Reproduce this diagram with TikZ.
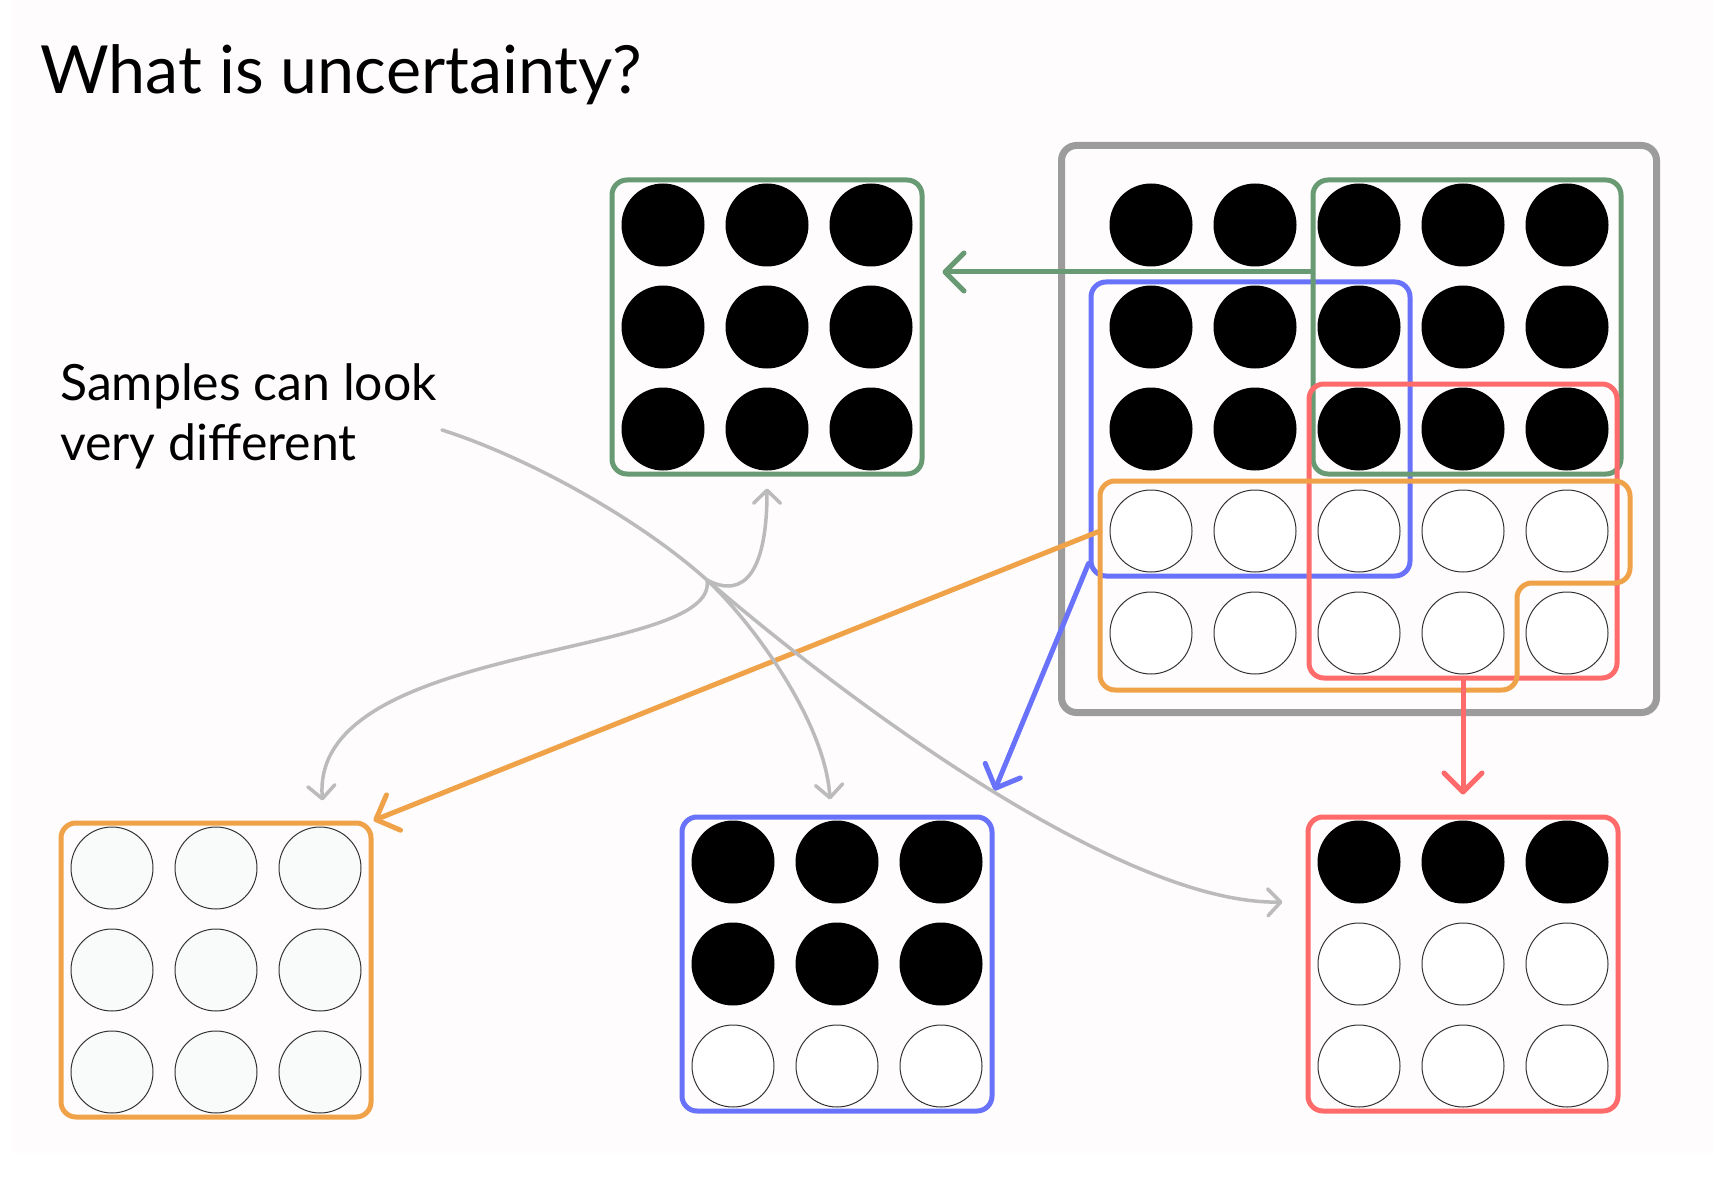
\documentclass[tikz,border=0pt]{standalone}
\usepackage{fontspec}
\setmainfont{Lato}
\usetikzlibrary{arrows.meta, positioning}

\definecolor{cgreen}{RGB}{104,155,116}
\definecolor{cblue}{RGB}{105,114,250}
\definecolor{cred}{RGB}{255,107,107}
\definecolor{corange}{RGB}{240,162,72}
\definecolor{cframe}{RGB}{156,156,156}
\definecolor{carrow}{RGB}{187,187,187}
\definecolor{cpaper}{RGB}{254,252,253}
\definecolor{cpale}{RGB}{249,250,250}

\begin{document}
\begin{tikzpicture}[x=1pt, y=-1pt,
  dot/.style={circle, fill=black, inner sep=0pt, minimum size=83pt},
  hole/.style={circle, draw=black!80, line width=1pt, fill=white, inner sep=0pt, minimum size=82pt},
  panel/.style={draw=#1, line width=5pt, rounded corners=15pt, inner sep=0pt,
    minimum width=310pt, minimum height=294pt},
  link/.style={draw=carrow, line width=3.5pt, line cap=round,
    -{Straight Barb[length=13pt, width=27pt, round]}},
  pick/.style={draw=#1, line width=5pt, line cap=round,
    -{Straight Barb[length=19pt, width=38pt, round]}}]

\useasboundingbox (0,0) rectangle (1726,1182);
\fill[white] (0,0) rectangle (1726,1182);
\fill[cpaper] (12,0) rectangle (1714,1153);

% titles
\node[anchor=base west, inner sep=0pt, font=\fontsize{66.4}{80}\selectfont] (title) at (40,94) {What is uncertainty?};
\node[anchor=base west, inner sep=0pt, align=left, font=\fontsize{50}{60}\selectfont] (note) at (60,460) {Samples can look\\very different};

% the whole population
\foreach \r in {1,2,3}
  \foreach \c in {1,...,5}
    \node[dot] (all-\r-\c) at ({1047+104*\c},{123+102*\r}) {};
\foreach \r in {4,5}
  \foreach \c in {1,...,5}
    \node[hole] (all-\r-\c) at ({1047+104*\c},{123+102*\r}) {};
\node[draw=cframe, line width=7pt, rounded corners=15pt, inner sep=0pt,
  minimum width=595pt, minimum height=567pt] (frame) at (all-3-3) {};

% samples drawn from it
\node[panel=cblue, minimum width=319pt, xshift=-4.5pt] (binner) at (all-3-2) {};
\node[panel=cgreen, minimum width=308pt, xshift=4pt] (ginner) at (all-2-4) {};
\node[panel=cred, minimum width=308pt] (rinner) at (all-4-4) {};
\draw[corange, line width=5pt, rounded corners=15pt]
  (1100,481) -- (1630,481) -- (1630,583) -- (1517,583) -- (1517,690) -- (1100,690) -- cycle;
\coordinate (oin) at (1100,531);

% green sample
\foreach \r in {1,2,3}
  \foreach \c in {1,2,3}
    \node[dot] (g-\r-\c) at ({559+104*\c},{123+102*\r}) {};
\node[panel=cgreen] (gbox) at (g-2-2) {};

% orange sample
\foreach \r in {1,2,3}
  \foreach \c in {1,2,3}
    \node[hole, fill=cpale] (o-\r-\c) at ({8+104*\c},{766+102*\r}) {};
\node[panel=corange] (obox) at (o-2-2) {};

% blue sample
\foreach \r in {1,2}
  \foreach \c in {1,2,3}
    \node[dot] (b-\r-\c) at ({629+104*\c},{760+102*\r}) {};
\foreach \c in {1,2,3}
  \node[hole] (b-3-\c) at ({629+104*\c},1066) {};
\node[panel=cblue] (bbox) at (b-2-2) {};

% red sample
\foreach \c in {1,2,3}
  \node[dot] (r-1-\c) at ({1255+104*\c},862) {};
\foreach \r in {2,3}
  \foreach \c in {1,2,3}
    \node[hole] (r-\r-\c) at ({1255+104*\c},{760+102*\r}) {};
\node[panel=cred] (rbox) at (r-2-2) {};

% coloured arrows
\draw[pick=cgreen] ([yshift=55pt]ginner.west) -- ([xshift=18pt, yshift=55pt]gbox.east);
\draw[pick=cred] (rinner.south) -- ([yshift=20pt]rbox.north);
\draw[pick=corange] (oin) -- (obox.north east);
\draw[pick=cblue] ([yshift=15pt]binner.south west) -- ([yshift=24pt]bbox.north east);

% grey arrows
\coordinate (tail) at (442,430);
\coordinate (split) at (707,580);
\draw[carrow, line width=3.5pt, line cap=round] (tail) .. controls (530,458) and (640,520) .. (split);
\draw[link] (split) .. controls (870,720) and (1130,905) .. ([xshift=-23pt, yshift=62pt]rbox.west);
\draw[link] (split) .. controls (745,600) and (767,570) .. ([yshift=-12pt]gbox.south);
\draw[link] (split) .. controls (750,620) and (825,720) .. ([xshift=-7pt, yshift=15pt]bbox.north);
\draw[link] (split) .. controls (720,660) and (310,640) .. ([xshift=-51pt, yshift=20pt]obox.north east);
\end{tikzpicture}
\end{document}
